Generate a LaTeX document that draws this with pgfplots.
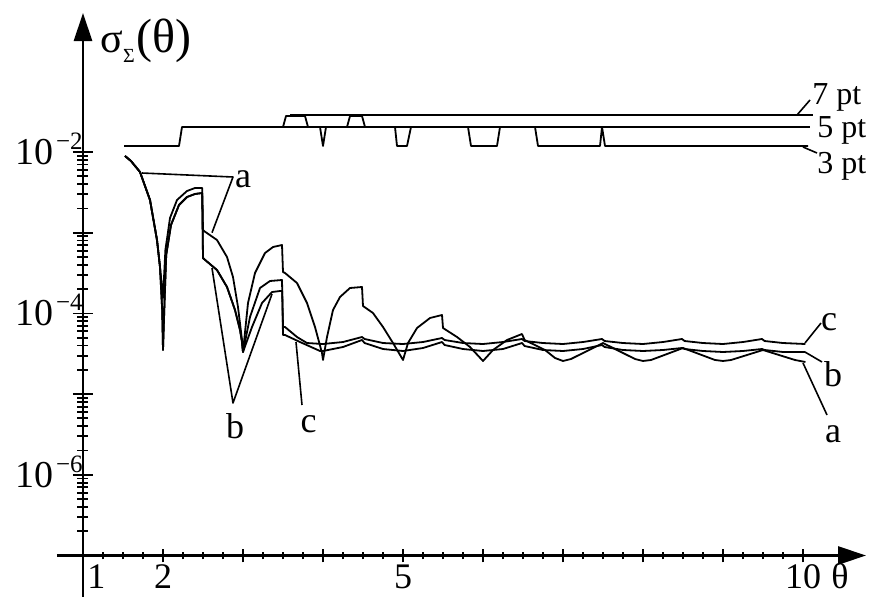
\documentclass[border=0pt]{standalone}
\usepackage{fontspec}
\setmainfont{Liberation Serif}
\usepackage{pgfplots}
\pgfplotsset{compat=1.18}
\usetikzlibrary{arrows.meta}
\newcommand{\ee}[1]{10\kern1pt\smash{\raisebox{7.5pt}{\fontsize{12.5}{12.5}\selectfont −#1}}}
\begin{document}
\begin{tikzpicture}
\begin{axis}[
  scale only axis, width=391.5pt, height=271.25pt,
  xmin=1, xmax=10.7875, ymin=1e-7, ymax=0.5277,
  ymode=log,
  axis x line=bottom, axis y line=left,
  axis line style={line width=1.4pt, -{Triangle[length=14pt,width=9pt]}},
  clip=false,
  cycle list={{black,mark=none,solid}},
  tick align=center,
  tick style={black, line width=0.9pt},
  major tick length=10pt, minor tick length=5.5pt,
  xtick style={/pgfplots/major tick length=7pt, /pgfplots/minor tick length=3.8pt},
  xtick={1,2,...,10}, xticklabels={,2,,,5,,,,,10},
  minor x tick num=3,
  ytick={1e-6,1e-5,1e-4,1e-3,1e-2},
  yticklabels={\ee{6},,\ee{4},,\ee{2}},
  minor ytick={2e-7,3e-7,4e-7,5e-7,6e-7,7e-7,8e-7,9e-7,
    2e-6,3e-6,4e-6,5e-6,6e-6,7e-6,8e-6,9e-6,
    2e-5,3e-5,4e-5,5e-5,6e-5,7e-5,8e-5,9e-5,
    2e-4,3e-4,4e-4,5e-4,6e-4,7e-4,8e-4,9e-4,
    2e-3,3e-3,4e-3,5e-3,6e-3,7e-3,8e-3,9e-3},
  xticklabel style={font=\fontsize{18}{18}\selectfont, anchor=base, yshift=-11.5pt, inner sep=0pt},
  yticklabel style={font=\fontsize{19}{19}\selectfont, anchor=east, xshift=5pt, inner sep=0pt},
  every axis plot/.append style={black, mark=none, line width=0.9pt, line join=round},
]
% axis line extensions
\draw[line width=1.4pt] (axis cs:0.675,1e-7) -- (axis cs:1,1e-7);
\draw[line width=1.4pt] (axis cs:1,1e-7) -- (axis cs:1,3.06e-8);

% curve a
\addplot coordinates {
(1.525,8.922e-3) (1.6,7.735e-3) (1.7125,5.651e-3) (1.8375,2.542e-3) (1.925,8.119e-4)
(1.9625,3.758e-4) (2.0,1.552e-4) (2.03,6.105e-4) (2.0875,1.521e-3) (2.175,2.542e-3)
(2.3,3.286e-3) (2.4,3.581e-3) (2.49,3.581e-3) (2.5,1.080e-3) (2.5125,1.050e-3)
(2.675,8.119e-4) (2.8,4.998e-4) (2.875,2.825e-4) (2.9375,1.200e-4) (2.9875,4.683e-5)
(3.0,3.325e-5) (3.0625,1.345e-4) (3.15,3.167e-4) (3.275,5.603e-4) (3.375,6.650e-4)
(3.4875,7.040e-4) (3.5,3.258e-4) (3.525,3.167e-4) (3.675,2.380e-4) (3.8,1.345e-4)
(3.9,6.784e-5) (3.9875,3.231e-5) (4.0,2.646e-5) (4.05,5.100e-5) (4.125,1.102e-4)
(4.2125,1.597e-4) (4.3375,2.064e-4) (4.4875,2.124e-4) (4.5,1.235e-4) (4.625,1.011e-4)
(4.75,6.784e-5) (4.875,4.296e-5) (5.0,2.646e-5) (5.0625,4.296e-5) (5.175,6.593e-5)
(5.3375,8.770e-5) (5.4875,9.554e-5) (5.5,6.593e-5) (5.675,5.100e-5) (5.8375,3.834e-5)
(6.0,2.572e-5) (6.125,3.520e-5) (6.3,4.683e-5) (6.4875,5.556e-5) (6.52,4.683e-5)
(6.775,3.520e-5) (6.9,2.802e-5) (7.0,2.572e-5) (7.1,2.723e-5) (7.5,4.296e-5)
(7.9,2.723e-5) (8.0,2.572e-5) (8.1,2.646e-5) (8.5,3.726e-5) (8.9,2.646e-5)
(9.0,2.572e-5) (9.1,2.646e-5) (9.5,3.520e-5) (9.9,2.646e-5) (10.03,2.500e-5)
};
% curve c
\addplot coordinates {
(1.525,8.922e-3) (1.6,7.735e-3) (1.7125,5.651e-3) (1.8375,2.542e-3) (1.925,8.119e-4)
(1.9625,3.758e-4) (1.99,1.102e-4) (2.0,3.520e-5) (2.02,1.466e-4) (2.04,5.292e-4)
(2.1,1.246e-3) (2.2,2.204e-3) (2.3,2.769e-3) (2.4,3.017e-3) (2.49,3.104e-3)
(2.5,4.858e-4) (2.5125,4.721e-4) (2.675,3.449e-4) (2.8,2.124e-4) (2.9,1.102e-4)
(2.9625,6.228e-5) (2.9875,4.420e-5) (3.0,3.325e-5)
(3.0875,9.024e-5) (3.2125,2.064e-4) (3.3375,2.521e-4) (3.4875,2.594e-4) (3.5,6.784e-5)
(3.525,6.784e-5) (3.675,5.100e-5) (3.8,4.296e-5) (4.0,4.175e-5) (4.25,4.420e-5)
(4.4875,5.100e-5) (4.52,4.818e-5) (4.75,4.296e-5) (5.0,4.175e-5) (5.25,4.420e-5)
(5.4875,4.957e-5) (5.52,4.683e-5) (5.75,4.296e-5) (6.0,4.175e-5) (6.25,4.420e-5)
(6.4875,4.818e-5) (6.52,4.548e-5) (6.75,4.296e-5) (7.0,4.175e-5) (7.25,4.420e-5)
(7.4875,4.818e-5) (7.52,4.548e-5) (7.75,4.296e-5) (8.0,4.175e-5) (8.25,4.420e-5)
(8.4875,4.818e-5) (8.52,4.548e-5) (8.75,4.296e-5) (9.0,4.175e-5) (9.25,4.420e-5)
(9.4875,4.818e-5) (9.52,4.548e-5) (9.75,4.296e-5) (10.03,4.175e-5)
};
% curve b
\addplot coordinates {
(1.525,8.922e-3) (1.6,7.735e-3) (1.7125,5.651e-3) (1.8375,2.542e-3) (1.925,8.119e-4)
(1.9625,3.758e-4) (1.99,1.102e-4) (2.0,3.520e-5) (2.02,1.466e-4) (2.04,5.292e-4)
(2.1,1.246e-3) (2.2,2.204e-3) (2.3,2.769e-3) (2.4,3.017e-3) (2.49,3.104e-3)
(2.5,4.858e-4) (2.5125,4.721e-4) (2.675,3.449e-4) (2.8,2.124e-4) (2.9,1.102e-4)
(2.9625,6.228e-5) (2.9875,4.420e-5) (3.0,3.325e-5)
(3.1125,6.784e-5) (3.2375,1.345e-4) (3.3625,1.841e-4) (3.4625,1.895e-4) (3.49,1.895e-4)
(3.5,5.400e-5) (3.525,5.400e-5) (3.7125,4.420e-5) (3.9625,3.421e-5) (4.0,3.421e-5)
(4.25,3.834e-5) (4.4875,4.683e-5) (4.52,4.296e-5) (4.75,3.621e-5) (5.0,3.421e-5)
(5.25,3.726e-5) (5.4875,4.420e-5) (5.52,4.058e-5) (5.75,3.621e-5) (6.0,3.421e-5)
(6.25,3.621e-5) (6.4875,4.296e-5) (6.52,3.944e-5) (6.75,3.520e-5) (7.0,3.421e-5)
(7.25,3.621e-5) (7.4875,4.058e-5) (7.52,3.834e-5) (7.75,3.520e-5) (8.0,3.421e-5)
(8.25,3.520e-5) (8.4875,3.726e-5) (8.52,3.621e-5) (8.75,3.421e-5) (9.0,3.325e-5)
(9.25,3.421e-5) (9.4875,3.621e-5) (9.52,3.520e-5) (9.75,3.325e-5) (10.03,3.325e-5)
};
% number of points (step curve)
\addplot coordinates {
(1.5125,0.01187) (2.2,0.01187) (2.2375,0.02041) (3.5,0.02041) (3.5375,0.02793)
(3.775,0.02793) (3.8125,0.02041) (3.9625,0.02041) (4.0,0.01187) (4.0375,0.02041)
(4.3,0.02041) (4.3375,0.02793) (4.4875,0.02793) (4.525,0.02041) (4.9,0.02041)
(4.925,0.01187) (5.05,0.01187) (5.1,0.02041) (5.8125,0.02041) (5.85,0.01187)
(6.175,0.01187) (6.2125,0.02041) (6.65,0.02041) (6.6875,0.01187) (7.4625,0.01187)
(7.4875,0.02041) (7.525,0.01187) (10.0625,0.01187)
};
% reference levels
\addplot coordinates {(2.2375,0.02041) (10.0875,0.02041)};
\addplot coordinates {(3.5875,0.02873) (10.125,0.02873)};
% leader lines
\addplot[line width=0.8pt] coordinates {(9.925,0.02873) (10.0875,0.0441)};
\addplot[line width=0.8pt] coordinates {(10.0,0.01153) (10.175,9.72e-3)};
\addplot[line width=0.8pt] coordinates {(1.7375,5.49e-3) (2.875,4.90e-3) (2.6125,1.0e-3)};
\addplot[line width=0.8pt] coordinates {(2.6125,3.65e-4) (2.875,7.76e-6) (3.3625,1.739e-4)};
\addplot[line width=0.8pt] coordinates {(3.6625,4.42e-5) (3.7375,7.33e-6)};
\addplot[line width=0.8pt] coordinates {(10.025,4.30e-5) (10.225,7.60e-5)};
\addplot[line width=0.8pt] coordinates {(10.025,3.32e-5) (10.2375,2.50e-5)};
\addplot[line width=0.8pt] coordinates {(10.0,2.43e-5) (10.3,5.51e-6)};

% labels
\node[anchor=base west, inner sep=0pt, font=\fontsize{18}{18}\selectfont] at (axis cs:1.05,3.9e-8) {1};
\node[anchor=base, inner sep=0pt, font=\fontsize{18}{18}\selectfont] at (axis cs:10.4625,3.9e-8) {θ};
\node[anchor=base west, inner sep=0pt, font=\fontsize{21}{21}\selectfont] at (axis cs:1.2125,0.1686) {σ\raisebox{-5pt}{\fontsize{10}{10}\selectfont Σ}\kern1pt{\fontsize{24}{24}\selectfont(θ)}};
\node[anchor=base, inner sep=0pt, font=\fontsize{18}{18}\selectfont] at (axis cs:3.0,3.581e-3) {a};
\node[anchor=base, inner sep=0pt, font=\fontsize{18}{18}\selectfont] at (axis cs:2.9,2.858e-6) {b};
\node[anchor=base, inner sep=0pt, font=\fontsize{18}{18}\selectfont] at (axis cs:3.819,3.30e-6) {c};
\node[anchor=base, inner sep=0pt, font=\fontsize{18}{18}\selectfont] at (axis cs:10.325,6.228e-5) {c};
\node[anchor=base, inner sep=0pt, font=\fontsize{18}{18}\selectfont] at (axis cs:10.375,1.225e-5) {b};
\node[anchor=base, inner sep=0pt, font=\fontsize{18}{18}\selectfont] at (axis cs:10.375,2.549e-6) {a};
\node[anchor=base west, inner sep=0pt, font=\fontsize{16}{16}\selectfont] at (axis cs:10.1125,0.03934) {7 pt};
\node[anchor=base west, inner sep=0pt, font=\fontsize{16}{16}\selectfont] at (axis cs:10.175,0.01534) {5 pt};
\node[anchor=base west, inner sep=0pt, font=\fontsize{16}{16}\selectfont] at (axis cs:10.175,5.492e-3) {3 pt};

\coordinate (BL) at (axis cs:-0.0375,3.06e-8);
\coordinate (TR) at (axis cs:10.8375,0.7649);
\end{axis}
\pgfresetboundingbox
\path (BL) rectangle (TR);
\end{tikzpicture}
\end{document}
